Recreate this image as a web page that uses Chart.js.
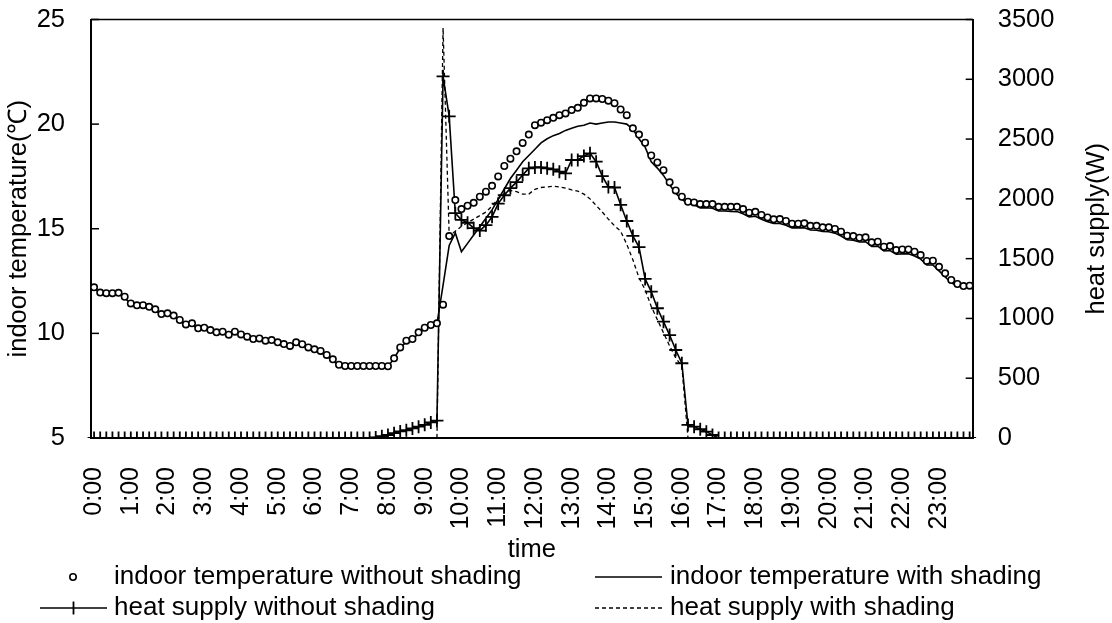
<!DOCTYPE html>
<html>
<head>
<meta charset="utf-8">
<script src="https://cdn.jsdelivr.net/npm/chart.js@4.4.0/dist/chart.umd.min.js"></script>
<style>
  html, body { margin: 0; padding: 0; background: #fff; }
  #wrap { width: 1112px; height: 623px; position: relative; }
</style>
</head>
<body>
<div id="wrap"><canvas id="myChart"></canvas></div>
<script>
// time of day, every 10 minutes
const times = [];
for (let h = 0; h < 24; h++) {
  for (let m = 0; m < 60; m += 10) times.push(h + ':' + (m < 10 ? '0' + m : m));
}

const tempTicks = [5, 10, 15, 20, 25];
const heatTicks = [0, 500, 1000, 1500, 2000, 2500, 3000, 3500];

// indoor temperature without shading (C)
const tempNoShade = [
  12.2, 11.95, 11.92, 11.92, 11.94, 11.75, 11.43, 11.34, 11.35, 11.27,
  11.15, 10.92, 10.96, 10.85, 10.64, 10.43, 10.48, 10.24, 10.27, 10.16,
  10.05, 10.08, 9.94, 10.08, 9.95, 9.84, 9.73, 9.76, 9.65, 9.68,
  9.57, 9.49, 9.40, 9.57, 9.48, 9.33, 9.24, 9.16, 8.97, 8.76,
  8.50, 8.44, 8.44, 8.44, 8.44, 8.44, 8.44, 8.44, 8.43, 8.81,
  9.33, 9.65, 9.73, 10.05, 10.27, 10.40, 10.48, 11.37, 14.65, 16.37,
  15.94, 16.10, 16.24, 16.53, 16.77, 17.05, 17.5, 18.0, 18.35, 18.7,
  19.1, 19.5, 19.95, 20.07, 20.19, 20.30, 20.43, 20.51, 20.67, 20.78,
  21.02, 21.23, 21.23, 21.20, 21.12, 21.0, 20.7, 20.43, 19.8, 19.5,
  19.11, 18.5, 18.17, 17.8, 17.22, 16.83, 16.53, 16.29, 16.26, 16.18,
  16.18, 16.18, 16.05, 16.05, 16.05, 16.05, 15.94, 15.77, 15.81, 15.66,
  15.54, 15.45, 15.46, 15.37, 15.24, 15.24, 15.26, 15.14, 15.14, 15.07,
  15.07, 14.99, 14.86, 14.67, 14.65, 14.57, 14.59, 14.35, 14.38, 14.14,
  14.17, 13.98, 14.01, 14.01, 13.9, 13.74, 13.46, 13.47, 13.18, 12.87,
  12.55, 12.36, 12.26, 12.28
];

// indoor temperature with shading (C)
const tempShade = [
  12.15, 11.95, 11.88, 11.88, 11.9, 11.7, 11.4, 11.3, 11.3, 11.22,
  11.1, 10.88, 10.9, 10.8, 10.6, 10.4, 10.42, 10.2, 10.22, 10.12,
  10.0, 10.03, 9.9, 10.02, 9.9, 9.8, 9.68, 9.7, 9.6, 9.62,
  9.52, 9.44, 9.35, 9.5, 9.42, 9.28, 9.18, 9.1, 8.92, 8.7,
  8.45, 8.4, 8.4, 8.4, 8.4, 8.4, 8.4, 8.4, 8.42, 8.8,
  9.3, 9.6, 9.7, 10.0, 10.22, 10.35, 10.45, 12.3, 14.2, 14.8,
  13.9, 14.3, 14.7, 15.1, 15.5, 15.9, 16.4, 16.9, 17.4, 17.8,
  18.2, 18.5, 18.8, 19.1, 19.3, 19.45, 19.55, 19.7, 19.8, 19.9,
  19.95, 20.05, 20.0, 20.05, 20.1, 20.1, 20.05, 20.0, 19.75, 19.3,
  18.9, 18.2, 17.9, 17.55, 17.1, 16.7, 16.4, 16.2, 16.15, 16.0,
  16.0, 15.98, 15.85, 15.85, 15.83, 15.82, 15.72, 15.57, 15.6, 15.45,
  15.34, 15.25, 15.25, 15.17, 15.04, 15.04, 15.05, 14.94, 14.93, 14.87,
  14.86, 14.79, 14.65, 14.47, 14.45, 14.37, 14.38, 14.15, 14.17, 13.94,
  13.96, 13.78, 13.8, 13.8, 13.7, 13.55, 13.27, 13.27, 12.99, 12.7,
  12.42, 12.28, 12.22, 12.24
];

// heat supply without shading (W)
const heatNoShade = [
  0, 0, 0, 0, 0, 0, 0, 0, 0, 0,
  0, 0, 0, 0, 0, 0, 0, 0, 0, 0,
  0, 0, 0, 0, 0, 0, 0, 0, 0, 0,
  0, 0, 0, 0, 0, 0, 0, 0, 0, 0,
  0, 0, 0, 0, 0, 0, 5, 15, 25, 40,
  55, 65, 80, 95, 110, 130, 145, 3025, 2690, 1880,
  1825, 1800, 1755, 1735, 1780, 1850, 1960, 2030, 2090, 2140,
  2200, 2255, 2263, 2263, 2255, 2247, 2227, 2213, 2325, 2325,
  2358, 2381, 2311, 2190, 2100, 2095, 1950, 1815, 1690, 1597,
  1330, 1224, 1085, 973, 861, 736, 625, 109, 95, 73,
  53, 25, 0, 0, 0, 0, 0, 0, 0, 0,
  0, 0, 0, 0, 0, 0, 0, 0, 0, 0,
  0, 0, 0, 0, 0, 0, 0, 0, 0, 0,
  0, 0, 0, 0, 0, 0, 0, 0, 0, 0,
  0, 0, 0, 0
];

// heat supply with shading (W)
const heatShade = [
  0, 0, 0, 0, 0, 0, 0, 0, 0, 0,
  0, 0, 0, 0, 0, 0, 0, 0, 0, 0,
  0, 0, 0, 0, 0, 0, 0, 0, 0, 0,
  0, 0, 0, 0, 0, 0, 0, 0, 0, 0,
  0, 0, 0, 0, 0, 0, 0, 0, 0, 0,
  0, 0, 0, 0, 0, 0, 0, 3430, 1690, 1730,
  1770, 1800, 1830, 1860, 1890, 1940, 2000, 2045, 2070, 2060,
  2040, 2040, 2080, 2095, 2100, 2105, 2100, 2090, 2075, 2065,
  2040, 2000, 1945, 1890, 1830, 1775, 1730, 1620, 1490, 1340,
  1240, 1100, 990, 880, 770, 670, 600, 0, 0, 0,
  0, 0, 0, 0, 0, 0, 0, 0, 0, 0,
  0, 0, 0, 0, 0, 0, 0, 0, 0, 0,
  0, 0, 0, 0, 0, 0, 0, 0, 0, 0,
  0, 0, 0, 0, 0, 0, 0, 0, 0, 0,
  0, 0, 0, 0
];

const FONT = '"Liberation Sans", Arial, sans-serif';
Chart.defaults.font.family = FONT;
Chart.defaults.color = '#000';

// box top line, inward ticks, right title, legend
const extras = {
  id: 'extras',
  afterDraw(chart) {
    const { ctx, chartArea: a, scales } = chart;
    ctx.save();
    ctx.strokeStyle = '#000';
    ctx.fillStyle = '#000';
    ctx.lineWidth = 1.5;
    ctx.beginPath();
    ctx.moveTo(a.left, a.top);
    ctx.lineTo(a.right, a.top);
    ctx.stroke();

    scales.yT.ticks.forEach(t => {
      const y = scales.yT.getPixelForValue(t.value);
      ctx.beginPath(); ctx.moveTo(a.left, y); ctx.lineTo(a.left + 8, y); ctx.stroke();
    });
    scales.yH.ticks.forEach(t => {
      const y = scales.yH.getPixelForValue(t.value);
      ctx.beginPath(); ctx.moveTo(a.right - 7, y); ctx.lineTo(a.right, y); ctx.stroke();
    });

    // right axis title, reads bottom to top
    ctx.save();
    ctx.font = '25.5px ' + FONT;
    ctx.textAlign = 'center';
    ctx.textBaseline = 'middle';
    ctx.translate(1097, (a.top + a.bottom) / 2);
    ctx.rotate(-Math.PI / 2);
    ctx.fillText('heat supply(W)', 0, 0);
    ctx.restore();

    // legend
    const row1 = 577, row2 = 608;
    ctx.font = '26px ' + FONT;
    ctx.textAlign = 'left';
    ctx.textBaseline = 'middle';
    const ds = chart.data.datasets;

    ctx.lineWidth = 1.6;
    ctx.beginPath(); ctx.arc(73, row1, 3.2, 0, Math.PI * 2);
    ctx.fillStyle = '#fff'; ctx.fill(); ctx.stroke();
    ctx.fillStyle = '#000';
    ctx.fillText(ds[0].label, 114, row1);

    ctx.lineWidth = 1.6;
    ctx.beginPath(); ctx.moveTo(595, row1); ctx.lineTo(662, row1); ctx.stroke();
    ctx.fillText(ds[1].label, 670, row1);

    ctx.beginPath(); ctx.moveTo(40, row2); ctx.lineTo(107, row2); ctx.stroke();
    ctx.lineWidth = 1.8;
    ctx.beginPath(); ctx.moveTo(73.5, row2 - 6.5); ctx.lineTo(73.5, row2 + 6.5); ctx.stroke();
    ctx.fillText(ds[2].label, 114, row2);

    ctx.lineWidth = 1.3;
    ctx.setLineDash([4, 3]);
    ctx.beginPath(); ctx.moveTo(595, row2); ctx.lineTo(662, row2); ctx.stroke();
    ctx.setLineDash([]);
    ctx.fillText(ds[3].label, 670, row2);
    ctx.restore();
  }
};

function fitY(width) {
  return s => {
    s.width = width;
    s.paddingTop = 0;
    s.paddingBottom = 0;
  };
}

const data = {
  labels: times,
  datasets: [
    {
      label: 'indoor temperature without shading',
      data: tempNoShade,
      yAxisID: 'yT',
      showLine: false,
      pointStyle: 'circle',
      pointRadius: 3.2,
      pointBorderWidth: 1.6,
      pointBorderColor: '#000',
      pointBackgroundColor: '#fff',
      borderColor: '#000',
      backgroundColor: '#fff'
    },
    {
      label: 'indoor temperature with shading',
      data: tempShade,
      yAxisID: 'yT',
      borderColor: '#000',
      borderWidth: 1.6,
      pointRadius: 0
    },
    {
      label: 'heat supply without shading',
      data: heatNoShade,
      yAxisID: 'yH',
      borderColor: '#000',
      borderWidth: 1.6,
      pointStyle: 'cross',
      pointRadius: 6.5,
      pointBorderWidth: 1.8,
      pointBorderColor: '#000'
    },
    {
      label: 'heat supply with shading',
      data: heatShade,
      yAxisID: 'yH',
      borderColor: '#000',
      borderWidth: 1.3,
      borderDash: [4, 3],
      pointRadius: 0
    }
  ]
};

const config = {
  type: 'line',
  data,
  options: {
    responsive: true,
    maintainAspectRatio: false,
    animation: false,
    events: [],
    elements: { line: { tension: 0 } },
    layout: { padding: { top: 19.5, left: 0, right: 0, bottom: 0 } },
    plugins: { legend: { display: false }, tooltip: { enabled: false } },
    scales: {
      x: {
        type: 'category',
        offset: true,
        grid: { display: false, drawTicks: false },
        border: { display: true, color: '#000', width: 2 },
        ticks: {
          autoSkip: false,
          maxRotation: 90,
          minRotation: 90,
          padding: 29,
          font: { size: 25 },
          callback: (v, i) => (i % 6 === 0 ? times[i] : null)
        },
        title: { display: true, text: 'time', font: { size: 25.5 }, padding: { top: 0, bottom: 58 } },
        afterFit: s => { s.height = 185; s.paddingLeft = 0; s.paddingRight = 0; }
      },
      yT: {
        position: 'left',
        min: 5,
        max: 25,
        afterBuildTicks: s => { s.ticks = tempTicks.map(v => ({ value: v })); },
        grid: { display: false, drawTicks: false },
        border: { display: true, color: '#000', width: 2 },
        ticks: { padding: 26, font: { size: 25.5 }, callback: v => String(v) },
        title: { display: true, text: 'indoor temperature(℃)', font: { size: 25.5 }, padding: { top: 4, bottom: 0 } },
        afterFit: fitY(91)
      },
      yH: {
        position: 'right',
        min: 0,
        max: 3500,
        afterBuildTicks: s => { s.ticks = heatTicks.map(v => ({ value: v })); },
        grid: { display: false, drawTicks: false },
        border: { display: true, color: '#000', width: 2 },
        ticks: { padding: 25, font: { size: 25.5 }, callback: v => String(v) },
        afterFit: fitY(139.3)
      }
    }
  },
  plugins: [extras]
};

const myChart = new Chart(document.getElementById('myChart'), config);
</script>
</body>
</html>
